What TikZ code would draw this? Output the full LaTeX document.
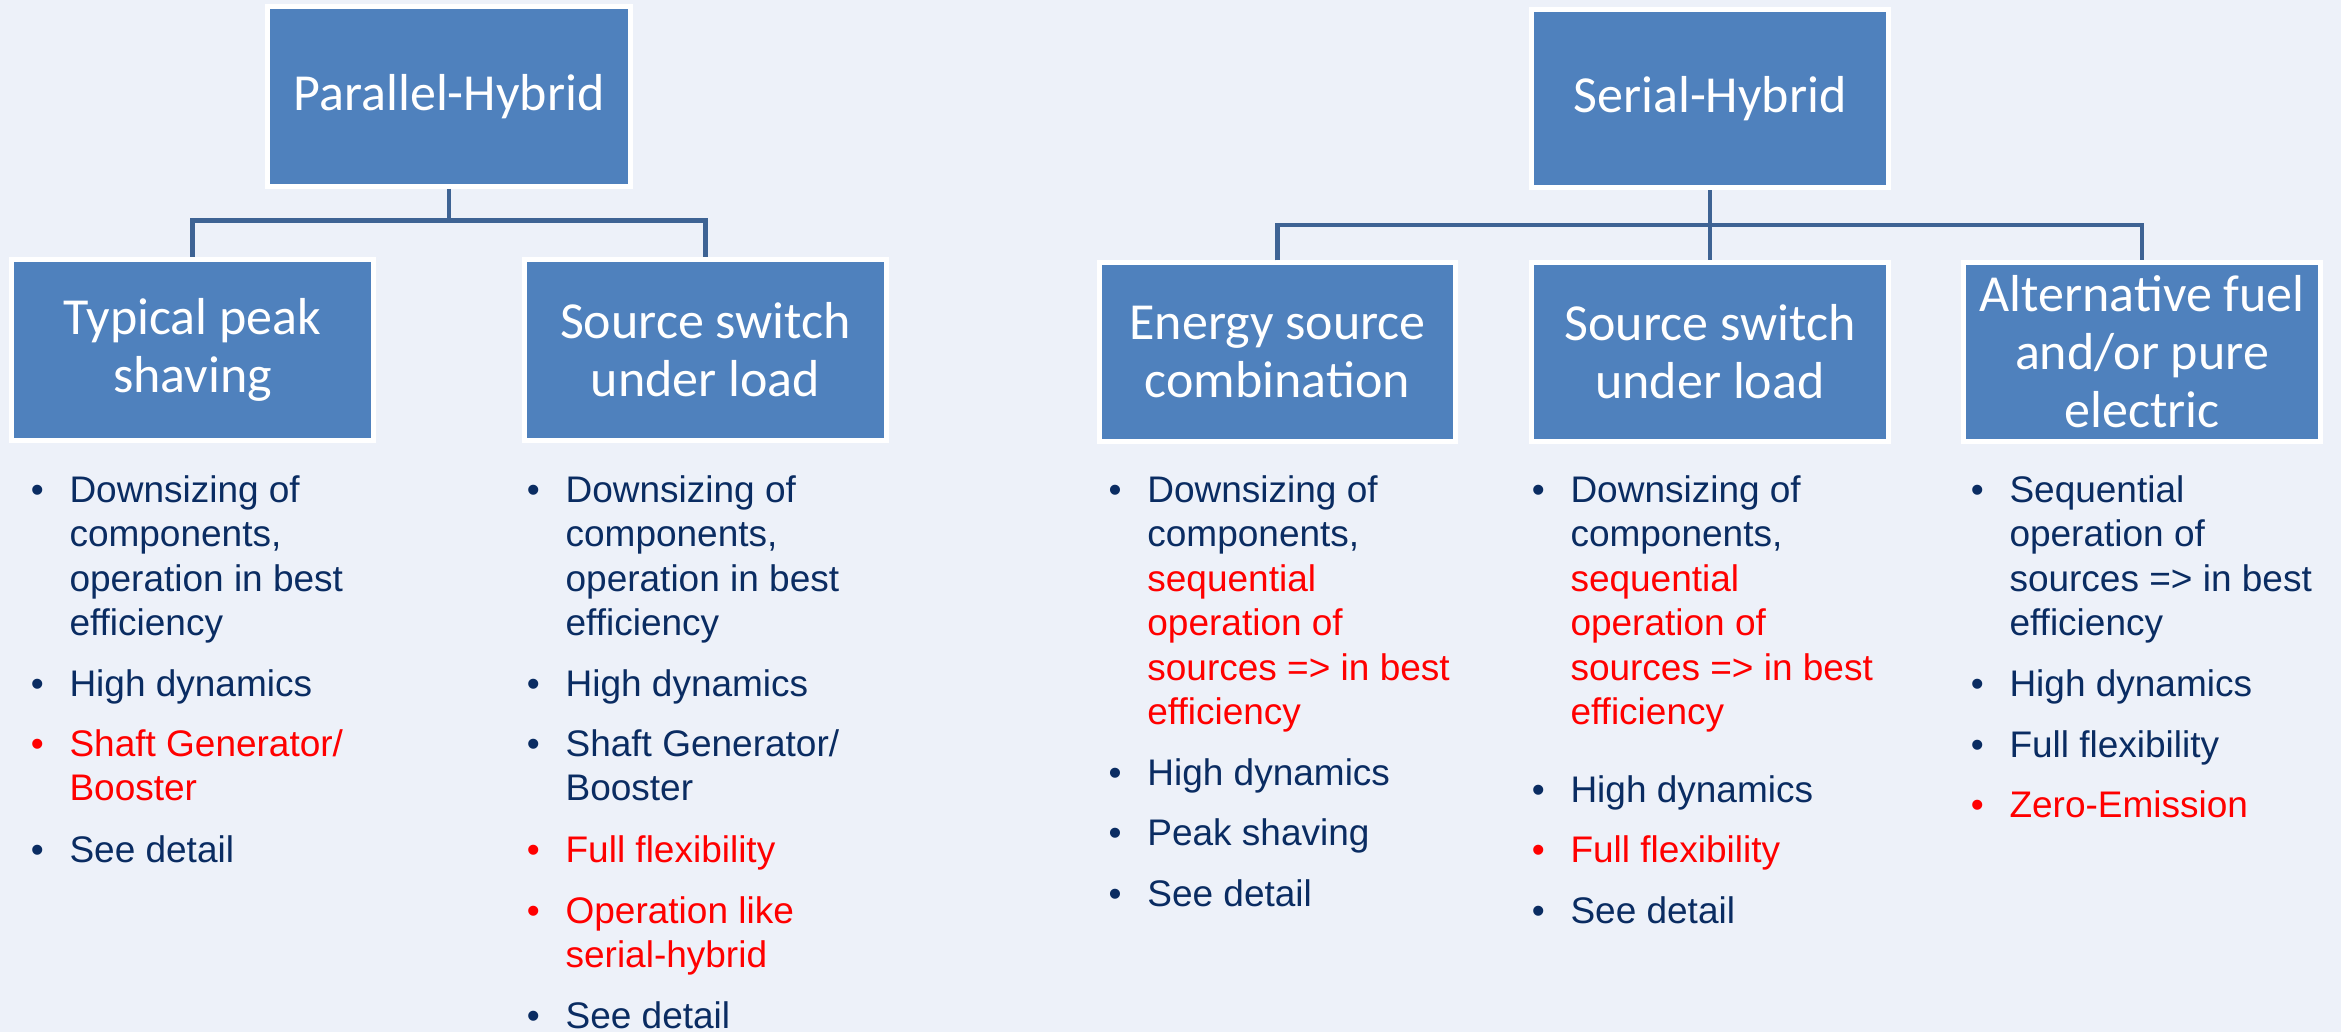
\documentclass[tikz,border=0pt]{standalone}
\usepackage{fontspec}
\setmainfont{Liberation Sans}
\newfontfamily\boxfont{Carlito}
\definecolor{bg}{RGB}{237,241,249}
\definecolor{boxblue}{RGB}{79,129,189}
\definecolor{linkblue}{RGB}{62,99,148}
\definecolor{navy}{RGB}{10,44,98}
\definecolor{hred}{RGB}{255,0,0}
\newcommand\oneline[1]{\hbox{#1}}
\tikzset{
  hbox/.style={fill=boxblue, draw=white, line width=5pt, text=white, align=center,
    inner sep=0pt, font={\boxfont\fontsize{52}{58}\selectfont}},
  link/.style={draw=linkblue, line width=4.5pt},
  itm/.style={anchor=base west, inner sep=0pt, font={\fontsize{37}{44.5}\selectfont}},
  bul/.style={anchor=base, inner sep=0pt, font={\fontsize{37}{44.5}\selectfont}},
}
\newcommand\bitem[5]{%
  \node[bul, text=#4] (#1b) at (#2-32,#3) {\textbullet};
  \node[itm, text=#4] (#1) at (#2,#3) {\vtop{#5}};
}
\begin{document}
\begin{tikzpicture}[x=1pt, y=-1pt]
\fill[bg] (0,0) rectangle (2341,1032);
\useasboundingbox (0,0) rectangle (2341,1032);

% Parallel hybrid
\node[hbox, minimum width=363pt, minimum height=180pt] (PH) at (449,96.5) {Parallel-Hybrid};
\node[hbox, minimum width=362pt, minimum height=181pt] (PL) at (192.5,350) {Typical peak\\shaving};
\node[hbox, minimum width=362pt, minimum height=181pt] (PR) at (705.5,350) {Source switch\\under load};
\coordinate (pbar) at (449,220.5);
\draw[link] (PH.south) -- (pbar);
\draw[link] (PL.north) |- (pbar) -| (PR.north);

% Serial hybrid
\node[hbox, minimum width=357pt, minimum height=178pt] (SH) at (1710,98.7) {Serial-Hybrid};
\node[hbox, minimum width=356pt, minimum height=178pt] (SL) at (1277.5,352) {Energy source\\combination};
\node[hbox, minimum width=357pt, minimum height=178pt] (SM) at (1710,352) {Source switch\\under load};
\node[hbox, minimum width=357pt, minimum height=178pt] (SR) at (2142,352) {Alternative fuel\\and/or pure\\electric};
\coordinate (sbar) at (1710,225.2);
\draw[link] (SH.south) -- (SM.north);
\draw[link] (SL.north) |- (sbar) -| (SR.north);

% Column 1
\bitem{ca}{69.3}{502.3}{navy}{\oneline{Downsizing of}\oneline{components,}\oneline{operation in best}\oneline{efficiency}}
\bitem{cb}{69.3}{696.7}{navy}{\oneline{High dynamics}}
\bitem{cc}{69.3}{756.3}{hred}{\oneline{Shaft Generator/}\oneline{Booster}}
\bitem{cd}{69.3}{862.8}{navy}{\oneline{See detail}}

% Column 2
\bitem{da}{565.4}{502.3}{navy}{\oneline{Downsizing of}\oneline{components,}\oneline{operation in best}\oneline{efficiency}}
\bitem{db}{565.4}{696.7}{navy}{\oneline{High dynamics}}
\bitem{dc}{565.4}{756.3}{navy}{\oneline{Shaft Generator/}\oneline{Booster}}
\bitem{dd}{565.4}{862.8}{hred}{\oneline{Full flexibility}}
\bitem{de}{565.4}{923.3}{hred}{\oneline{Operation like}\oneline{serial-hybrid}}
\bitem{df}{565.4}{1028}{navy}{\oneline{See detail}}

% Column 3
\bitem{ea}{1147.2}{502.3}{navy}{\oneline{Downsizing of}\oneline{components,}\oneline{\color{hred}sequential}\oneline{\color{hred}operation of}\oneline{\color{hred}sources => in best}\oneline{\color{hred}efficiency}}
\bitem{eb}{1147.2}{785.4}{navy}{\oneline{High dynamics}}
\bitem{ec}{1147.2}{845.8}{navy}{\oneline{Peak shaving}}
\bitem{ed}{1147.2}{906.2}{navy}{\oneline{See detail}}

% Column 4
\bitem{fa}{1570.3}{502.3}{navy}{\oneline{Downsizing of}\oneline{components,}\oneline{\color{hred}sequential}\oneline{\color{hred}operation of}\oneline{\color{hred}sources => in best}\oneline{\color{hred}efficiency}}
\bitem{fb}{1570.3}{802.4}{navy}{\oneline{High dynamics}}
\bitem{fc}{1570.3}{862.8}{hred}{\oneline{Full flexibility}}
\bitem{fd}{1570.3}{923.2}{navy}{\oneline{See detail}}

% Column 5
\bitem{ga}{2009.3}{502.3}{navy}{\oneline{Sequential}\oneline{operation of}\oneline{sources => in best}\oneline{efficiency}}
\bitem{gb}{2009.3}{696.7}{navy}{\oneline{High dynamics}}
\bitem{gc}{2009.3}{757.2}{navy}{\oneline{Full flexibility}}
\bitem{gd}{2009.3}{817.7}{hred}{\oneline{Zero-Emission}}
\end{tikzpicture}
\end{document}
